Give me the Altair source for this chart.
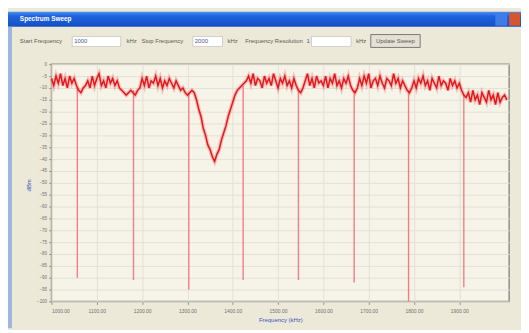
import altair as alt
import pandas as pd

# ---------------- data ----------------
trace_freq = list(range(1000, 2010, 5))
trace_level = [
    # block A 1000-1055
    -6, -9, -5, -8, -4, -9, -6, -10, -5, -8, -6, -9,
    # gap 1060-1075
    -11, -12, -10, -9,
    # block B 1080-1145
    -7, -10, -5, -9, -6, -4, -9, -7, -10, -5, -8, -6, -9, -7,
    # gap 1150-1195
    -10, -11, -12, -13, -12, -11, -12, -13, -11, -10,
    # block C 1200-1290
    -6, -9, -5, -10, -7, -8, -5, -9, -6, -10, -7, -9, -6, -8, -10, -7, -9, -11, -10,
    # 1295-1310
    -12, -13, -12, -11,
    # V notch 1315-1430
    -12, -15, -19, -22, -27, -30, -34, -36, -39, -41, -38, -36,
    -32, -29, -26, -22, -19, -16, -13, -11, -10, -9, -8, -7,
    # block D 1435-1540
    -5, -8, -4, -9, -6, -7, -10, -5, -8, -6, -9, -4, -7, -10, -6, -8, -5, -9, -7, -10, -6, -9,
    # gap 1545-1555
    -11, -12, -10,
    # block E 1560-1660
    -7, -4, -9, -6, -10, -5, -8, -7, -9, -5, -10, -6, -8, -4, -9, -7, -10, -6, -8, -5, -9,
    # gap 1665-1675
    -11, -12, -10,
    # block F 1680-1780
    -6, -9, -5, -8, -4, -10, -7, -6, -9, -5, -8, -10, -6, -7, -9, -4, -8, -6, -10, -7, -9,
    # gap 1785-1795
    -11, -12, -10,
    # block G 1800-1905
    -7, -10, -6, -8, -5, -9, -7, -11, -6, -8, -10, -5, -9, -7, -8, -11, -6, -9, -7, -10, -8, -11,
    # gap 1910-1915
    -13, -14,
    # block H 1920-2005
    -12, -16, -11, -15, -13, -17, -12, -14, -16, -11, -15, -13, -17, -12, -16, -14, -13, -15,
]
assert len(trace_freq) == len(trace_level)

dip_freq = [1057, 1181, 1303, 1423, 1545, 1668, 1788, 1910]
dip_top = [-10, -11, -12, -9, -11, -11, -11, -13]
dip_bottom = [-90, -91, -95, -91, -91, -92, -100, -94]

x_ticks = [1000, 1100, 1200, 1300, 1400, 1500, 1600, 1700, 1800, 1900]
y_ticks = [-100, -95, -90, -85, -80, -75, -70, -65, -60, -55, -50,
           -45, -40, -35, -30, -25, -20, -15, -10, -5, 0]

# ---------------- layout ----------------
W, H = 463, 240
PL, PT, PR, PB = 44, 55, 12, 27
FONT = "Liberation Sans"

trace = pd.DataFrame({"freq": trace_freq, "level": trace_level})
dips = pd.DataFrame({"freq": dip_freq, "top": dip_top, "bottom": dip_bottom})

xscale = alt.Scale(domain=[1000, 2010], nice=False, zero=False)
yscale = alt.Scale(domain=[-100, 0], nice=False, zero=False)

xaxis = alt.Axis(values=x_ticks, format=".2f", title="Frequency (kHz)",
                 labelFontSize=5, labelColor="#707070", labelFont=FONT,
                 labelPadding=4, tickSize=3, tickColor="#9a9a92",
                 titleColor="#3b4fc4", titleFontSize=6, titleFont=FONT,
                 titleFontWeight="normal", titleY=18, titleBaseline="middle",
                 gridColor="#e4e1d3", domain=False)
yaxis = alt.Axis(values=y_ticks, title="dBm",
                 labelFontSize=4.5, labelColor="#707070", labelFont=FONT,
                 labelPadding=2, tickSize=3, tickColor="#9a9a92",
                 titleColor="#3b4fc4", titleFontSize=6, titleFont=FONT,
                 titleFontWeight="normal", titleX=-20, titleY=122,
                 gridColor="#e4e1d3", domain=False)

enc = dict(
    x=alt.X("freq:Q", scale=xscale, axis=xaxis),
    y=alt.Y("level:Q", scale=yscale, axis=yaxis),
)
halo = alt.Chart(trace).mark_line(color="#f04a50", strokeWidth=4, opacity=0.3).encode(**enc)
line = alt.Chart(trace).mark_line(color="#e5161c", strokeWidth=1.5).encode(**enc)

dip_rules = alt.Chart(dips).mark_rule(color="#ee7f84", strokeWidth=1.4).encode(
    x=alt.X("freq:Q", scale=xscale, axis=xaxis),
    y=alt.Y("top:Q", scale=yscale, axis=yaxis),
    y2="bottom:Q",
)

# ---------------- window chrome ----------------
def box(x1, x2, y1, y2, **kw):
    return alt.Chart().mark_rect(**kw).encode(
        x=alt.value(x1), x2=alt.value(x2), y=alt.value(y1), y2=alt.value(y2))

def label(x, y, s, size=6, color="#5a5a5a", align="left", weight="normal"):
    return alt.Chart().mark_text(align=align, baseline="middle", fontSize=size,
                                 color=color, font=FONT, fontWeight=weight).encode(
        x=alt.value(x), y=alt.value(y), text=alt.value(s))

title_grad = alt.Gradient(
    gradient="linear", x1=0, y1=0, x2=0, y2=1,
    stops=[alt.GradientStop(offset=0, color="#4a90f0"),
           alt.GradientStop(offset=0.3, color="#1f62dc"),
           alt.GradientStop(offset=1, color="#1550c8")])

chrome = [
    box(-PL, W + PR, -53, -38, color=title_grad),
    box(-PL, -PL + 4, -38, H + PB, color="#9fb4de"),
    box(W + PR - 12, W + PR - 1, -52, -39, color="#d9532e"),
    box(W + PR - 26, W + PR - 14, -52, -39, color="#3f7ce6"),
    label(-32, -45.5, "Spectrum Sweep", size=6.5, color="white", weight="bold"),
    # controls row
    label(-32, -23, "Start Frequency"),
    box(21, 70, -28, -18, color="white", stroke="#b8b8b0", strokeWidth=0.6),
    label(23, -23, "1000", color="#4a5a8a"),
    label(76, -23, "kHz"),
    label(91, -23, "Stop Frequency"),
    box(143, 173, -28, -18, color="white", stroke="#b8b8b0", strokeWidth=0.6),
    label(145, -23, "2000", color="#4a5a8a"),
    label(178, -23, "kHz"),
    label(196, -23, "Frequency Resolution"),
    label(258, -23, "1", color="#4a5a8a"),
    box(263, 303, -28, -18, color="white", stroke="#b8b8b0", strokeWidth=0.6),
    label(308, -23, "kHz"),
    box(323, 373, -30, -17, color="#e4e1d4", stroke="#5e5e5e", strokeWidth=0.8),
    label(348, -23.5, "Update Sweep", align="center"),
]

chart = alt.layer(*chrome, dip_rules, halo, line).properties(
    width=W, height=H,
    padding={"left": PL, "top": PT, "right": PR, "bottom": PB},
    autosize=alt.AutoSizeParams(type="none"),
    background="#ECE9D8",
).configure_view(fill="#F6F4E8", stroke="#8e8e86", strokeWidth=1.5)

chart.save("out.html", embed_options={"renderer": "svg", "actions": False})
